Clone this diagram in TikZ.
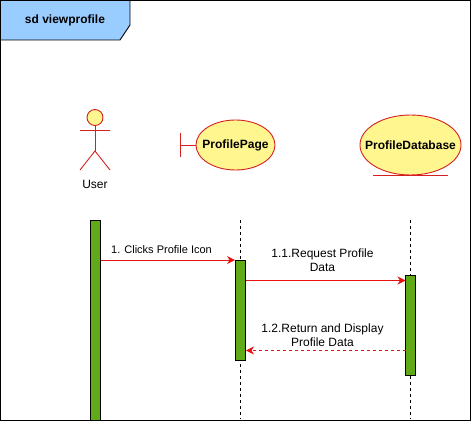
\documentclass[tikz,border=0pt]{standalone}
\usepackage{fontspec}
\setmainfont{Liberation Sans}
\usetikzlibrary{arrows.meta,shapes.geometric}
\definecolor{headblue}{HTML}{99CCFF}
\definecolor{usecase}{HTML}{FFF68F}
\definecolor{edgered}{HTML}{D42020}
\definecolor{msgred}{HTML}{E81010}
\definecolor{barolive}{HTML}{60A917}
\begin{document}
\begin{tikzpicture}[x=1pt,y=1pt,
  mycase/.style={ellipse,draw=edgered,fill=usecase,line width=0.9pt,inner sep=0pt,
    label={[inner sep=0pt,font=\bfseries\fontsize{12}{14}\selectfont]center:#1}},
  mybar/.style={rectangle,draw=black,fill=barolive,line width=0.9pt,minimum width=10pt,inner sep=0pt},
  myline/.style={draw=black,line width=0.8pt,dash pattern=on 3pt off 3pt},
  mymsg/.style={draw=msgred,line width=0.9pt,-{Stealth[length=8pt,width=8pt,inset=2.5pt]}},
  mylabel/.style={align=center,inner sep=0pt,font=\fontsize{12}{14}\selectfont},
  myactor/.style={draw=edgered,line width=0.9pt}]
\useasboundingbox (0,0) rectangle (472,-422);
\draw[line width=1pt] (0.5,-0.5) rectangle (470.5,-420.5);
\draw[line width=0.9pt,fill=headblue] (0.5,-0.5) -- (130,-0.5) -- (130,-25) -- (120,-40) -- (0.5,-40) -- cycle;
\node[inner sep=0pt,font=\bfseries\fontsize{12}{14}\selectfont] (title) at (65,-20.5) {sd viewprofile};
% actor
\node[circle,myactor,fill=usecase,minimum size=16pt,inner sep=0pt] (userhead) at (95,-117.5) {};
\coordinate (userhip) at (95,-151);
\draw[myactor] (userhead) -- (userhip);
\draw[myactor] (80,-130) -- (110,-130);
\draw[myactor] (80,-170) -- (userhip) -- (110,-170);
\node[inner sep=0pt,font=\fontsize{12}{14}\selectfont] (user) at (95,-184) {User};
% objects
\node[mycase=ProfilePage,minimum width=79pt,minimum height=50pt] (page) at (235.5,-145) {};
\coordinate (pagetick) at (180.5,-145);
\draw[myactor] (page) -- (pagetick);
\draw[myactor] (180.5,-133) -- (180.5,-157);
\node[mycase=ProfileDatabase,minimum width=101pt,minimum height=60pt] (db) at (410.5,-145) {};
\draw[myactor] (373,-175.5) -- (448,-175.5);
% lifelines
\coordinate (pagetop) at (240.5,-220);
\coordinate (pageend) at (240.5,-419);
\coordinate (dbtop) at (410.5,-220);
\coordinate (dbend) at (410.5,-419);
\draw[myline] (pagetop) -- (pageend);
\draw[myline] (dbtop) -- (dbend);
\node[mybar,minimum height=200pt] (userbar) at (95.5,-320.5) {};
\node[mybar,minimum height=100pt] (pagebar) at (240.5,-310.5) {};
\node[mybar,minimum height=100pt] (dbbar) at (410.5,-325.5) {};
% messages
\coordinate (reqin) at (405.5,-280.5);
\coordinate (retout) at (405.5,-350.5);
\draw[mymsg] (userbar.east |- pagebar.north) -- (pagebar.north west);
\draw[mymsg] (pagebar.east |- reqin) -- (reqin);
\draw[mymsg,dash pattern=on 3pt off 3pt] (retout) -- (pagebar.east |- retout);
\node[mylabel,font=\fontsize{11}{14}\selectfont] (clicks) at (161.5,-250) {1. Clicks Profile Icon};
\node[mylabel] (request) at (322.5,-260.5) {1.1.Request Profile\\Data};
\node[mylabel] (return) at (322.5,-335.5) {1.2.Return and Display\\Profile Data};
\end{tikzpicture}
\end{document}
